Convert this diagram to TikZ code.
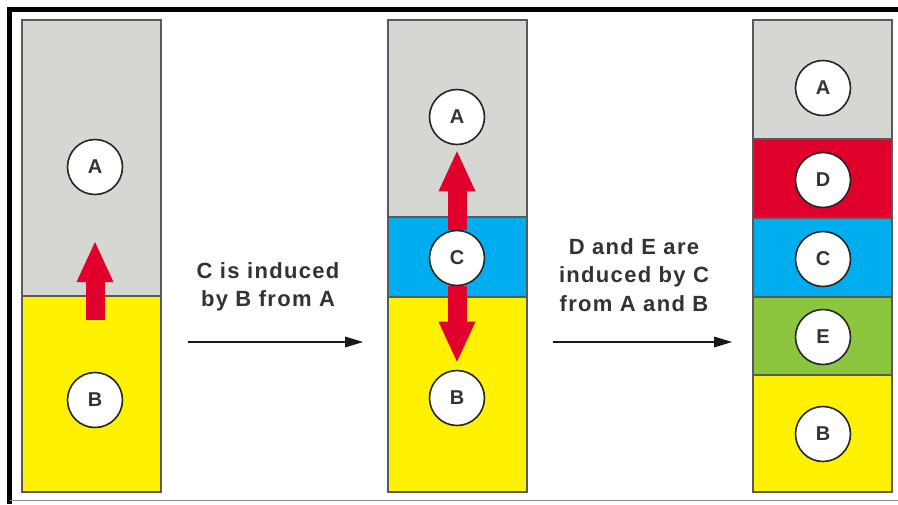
\documentclass[tikz,border=0pt]{standalone}
\usepackage{fontspec}
\setmainfont{Liberation Sans}
\newfontfamily\stepfont[LetterSpace=6]{Liberation Sans}
\usepackage{tikz}
\usetikzlibrary{arrows.meta,calc,positioning,backgrounds}
\definecolor{layerGray}{HTML}{D5D7D3}
\definecolor{layerYellow}{HTML}{FFF200}
\definecolor{layerBlue}{HTML}{00AEEF}
\definecolor{layerRed}{HTML}{E1002B}
\definecolor{layerGreen}{HTML}{8CC63F}
\definecolor{stripEdge}{HTML}{5A5A5A}
\definecolor{signalRed}{HTML}{E1002B}
\definecolor{inkGray}{HTML}{333333}

\begin{document}
\begin{tikzpicture}[x=1pt,y=-1pt,
    strip/.style={draw=stripEdge,line width=1.2pt,inner sep=0pt,outer sep=0pt,
      minimum width=139pt,anchor=north west},
    cell/.style={circle,draw=black!85,line width=1.6pt,fill=white,minimum size=55pt,
      inner sep=0pt,text=inkGray,font=\bfseries\fontsize{20}{20}\selectfont},
    caption/.style={align=center,text=inkGray,font=\stepfont\bfseries\fontsize{22}{28.5}\selectfont},
    signal/.style={draw=signalRed,line width=19pt,
      -{Triangle[width=37pt,length=40pt,line width=0pt]}},
    move/.style={draw=black!90,line width=2.4pt,
      -{Triangle[width=11pt,length=18pt,line width=0pt]}}]
    \useasboundingbox (0,0) rectangle (898,504);
    % signalling centres
    \node[cell] (a1) at (95,167) {A};
    \node[cell] (b1) at (95,400) {B};
    \node[cell] (a2) at (457,117) {A};
    \node[cell] (c2) at (457,258) {C};
    \node[cell] (b2) at (457,398) {B};
    \node[cell] (a3) at (823,88) {A};
    \node[cell] (d3) at (823,180) {D};
    \node[cell] (c3) at (823,259) {C};
    \node[cell] (e3) at (823,337) {E};
    \node[cell] (b3) at (823,434) {B};
    \begin{pgfonlayer}{background}
      \fill[white] (0,0) rectangle (898,504);
      \draw[line width=5pt] (898,9.5) -- (9.5,9.5) -- (9.5,504);
      \draw[black!45,line width=1pt] (9.5,500.5) -- (898,500.5);
      % first stage
      \node[strip,fill=layerGray,minimum height=276pt] (g1) at (22,20) {};
      \node[strip,fill=layerYellow,minimum height=196pt,below=0pt of g1] (y1) {};
      % second stage
      \node[strip,fill=layerGray,minimum height=197pt] (g2) at (388,20) {};
      \node[strip,fill=layerBlue,minimum height=80pt,below=0pt of g2] (u2) {};
      \node[strip,fill=layerYellow,minimum height=195pt,below=0pt of u2] (y2) {};
      % third stage
      \node[strip,fill=layerGray,minimum height=119pt] (g3) at (753,20) {};
      \node[strip,fill=layerRed,minimum height=79pt,below=0pt of g3] (r3) {};
      \node[strip,fill=layerBlue,minimum height=79pt,below=0pt of r3] (u3) {};
      \node[strip,fill=layerGreen,minimum height=78pt,below=0pt of u3] (v3) {};
      \node[strip,fill=layerYellow,minimum height=117pt,below=0pt of v3] (y3) {};
      % induction signals
      \coordinate (s1) at (95,320);
      \coordinate (t1) at (95,242);
      \draw[signal] (s1) -- (t1);
      \draw[signal] (c2) -- ($(a2.south)+(0,6)$);
      \draw[signal] (c2) -- ($(b2.north)+(0,-8)$);
    \end{pgfonlayer}
    \node[caption] (step1) at (268,287) {C is induced\\by B from A};
    \node[caption] (step2) at (634,275) {D and E are\\induced by C\\from A and B};
    \coordinate (m1s) at (188,342);
    \coordinate (m1e) at (363,342);
    \coordinate (m2s) at (553,342);
    \coordinate (m2e) at (732,342);
    \draw[move] (m1s) -- (m1e);
    \draw[move] (m2s) -- (m2e);
  \end{tikzpicture}
\end{document}
